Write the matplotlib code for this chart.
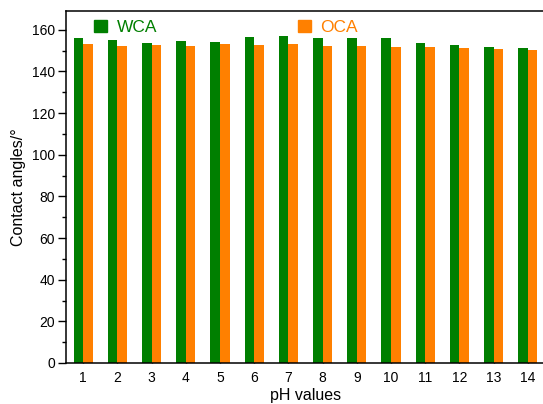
import numpy as np
import matplotlib
matplotlib.use("Agg")
import matplotlib.pyplot as plt
from matplotlib.ticker import MultipleLocator
from matplotlib.patches import Patch

plt.rcParams['font.family'] = ['Liberation Sans', 'DejaVu Sans']

# data
ph = [1, 2, 3, 4, 5, 6, 7, 8, 9, 10, 11, 12, 13, 14]
wca = [156.0, 155.3, 153.8, 154.6, 154.1, 156.6, 156.9, 156.2, 155.8, 156.1, 153.4, 152.7, 151.9, 151.3]
oca = [153.0, 152.4, 152.5, 152.4, 153.0, 152.5, 153.0, 152.4, 152.2, 151.6, 151.8, 151.3, 150.8, 150.5]

green = '#007F00'
orange = '#FF8000'

fig = plt.figure(figsize=(5.43, 4.04), dpi=100)
# axes spans slightly past the right edge like the original
ax = fig.add_axes([66/543, 1-363/404, (545-66)/543, (363-11)/404])

x = np.array(ph)
w = 0.28
ax.bar(x - w/2, wca, width=w, color=green, zorder=2)
ax.bar(x + w/2, oca, width=w, color=orange, zorder=2)

ax.set_xlim(0.5, 14.5)
ax.set_ylim(0, 169)
ax.set_xticks(ph)
ax.yaxis.set_major_locator(MultipleLocator(20))
ax.yaxis.set_minor_locator(MultipleLocator(10))
ax.tick_params(axis='x', direction='in', length=4, width=1, labelsize=10, pad=6)
ax.tick_params(axis='y', which='major', direction='out', length=6, width=1, labelsize=10, pad=2)
ax.tick_params(axis='y', which='minor', direction='out', length=3, width=1)
for s in ax.spines.values():
    s.set_linewidth(1.1)

ax.set_xlabel('pH values', fontsize=11.5, labelpad=2)
ax.set_ylabel('Contact angles/°', fontsize=11.5, labelpad=4)

leg_kw = dict(loc='upper left', frameon=False, fontsize=12.5, handlelength=0.75,
              handleheight=0.75, handletextpad=0.55)
leg1 = ax.legend(handles=[Patch(color=green, label='WCA')],
                 bbox_to_anchor=(0.026, 1.02), labelcolor=green, **leg_kw)
ax.add_artist(leg1)
ax.legend(handles=[Patch(color=orange, label='OCA')],
          bbox_to_anchor=(0.451, 1.02), labelcolor=orange, **leg_kw)

fig.savefig('out.png', dpi=100)
